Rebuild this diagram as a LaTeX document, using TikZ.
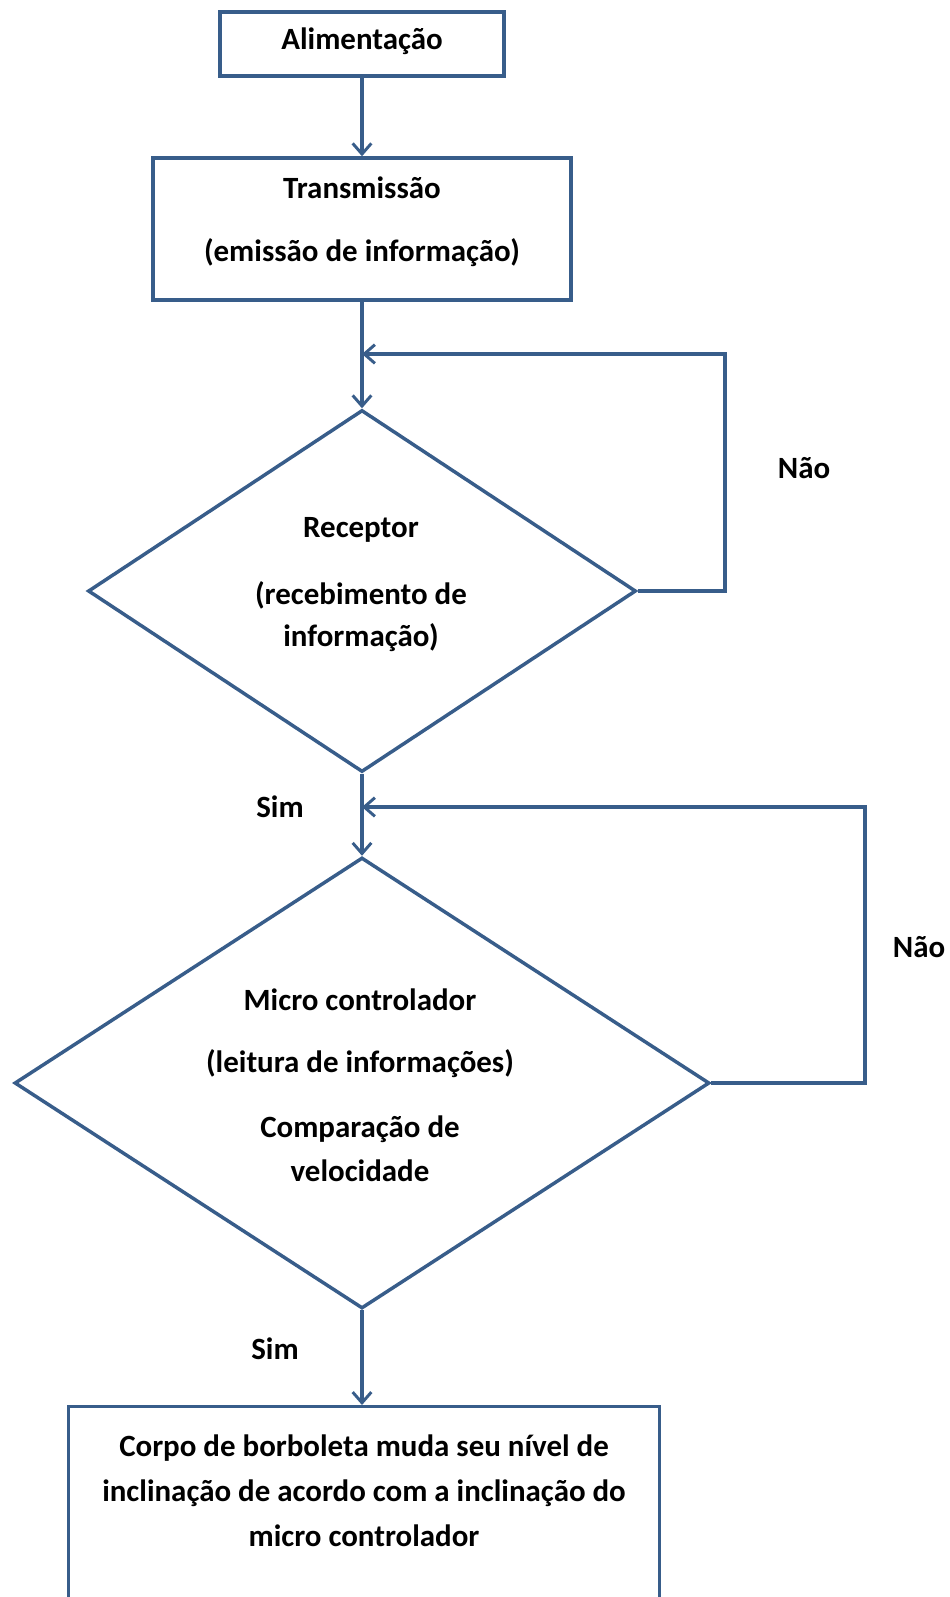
\documentclass[tikz,border=0pt]{standalone}
\usepackage{fontspec}
\setmainfont{Carlito}
\usepackage{tikz}
\usetikzlibrary{shapes.geometric}
\usetikzlibrary{arrows.meta}
\definecolor{flowblue}{RGB}{56,93,138}
\tikzset{
  flowline/.style={draw=flowblue,line width=2.6pt},
  flowarrow/.style={flowline,-{Straight Barb[length=8pt,width=14pt,line width=2.2pt]}},
  flowbox/.style={flowline,rectangle,inner sep=0pt},
  flowtest/.style={flowline,diamond,inner sep=0pt},
  flowtext/.style={font=\bfseries\fontsize{23.2}{28}\selectfont,inner sep=0pt,align=center}
}
\begin{document}
\begin{tikzpicture}[x=0.75pt,y=-0.75pt]
    \clip (0,0) rectangle (950,1597);
    \fill[white] (0,0) rectangle (950,1597);
    \node[flowbox,minimum width=284*0.75pt,minimum height=64*0.75pt] (alim) at (362,44) {};
    \node[flowtext] (alimtxt) at (362,41) {Alimentação};
    \node[flowbox,minimum width=418*0.75pt,minimum height=142*0.75pt] (trans) at (362,229) {};
    \node[flowtext] (transtxt) at (362,188) {Transmissão};
    \node[flowtext] (emisstxt) at (362,253) {(emissão de informação)};
    \node[flowtest,minimum width=548*0.75pt,minimum height=362*0.75pt] (recep) at (362,591) {};
    \node[flowtext] (receptxt) at (361,530) {Receptor};
    \node[flowtext] (recebtxt) at (361,595) {(recebimento de};
    \node[flowtext] (infotxt) at (361,638) {informação)};
    \node[flowtest,minimum width=695*0.75pt,minimum height=451*0.75pt] (micro) at (362,1083) {};
    \node[flowtext] (microtxt) at (360,1000) {Micro controlador};
    \node[flowtext] (leittxt) at (360,1064) {(leitura de informações)};
    \node[flowtext] (comptxt) at (360,1129) {Comparação de};
    \node[flowtext] (veloctxt) at (360,1171) {velocidade};
    \node[flowbox,minimum width=591*0.75pt,minimum height=260*0.75pt,anchor=north] (corpo) at (364,1405) {};
    \node[flowtext] (corpotxt1) at (364,1448) {Corpo de borboleta muda seu nível de};
    \node[flowtext] (corpotxt2) at (364,1493) {inclinação de acordo com a inclinação do};
    \node[flowtext] (corpotxt3) at (364,1536) {micro controlador};
    \coordinate (loopa) at (725,354);
    \coordinate (joina) at (362,354);
    \coordinate (loopb) at (865,807);
    \coordinate (joinb) at (362,807);
    \node[flowtext] (naoa) at (804,468) {Não};
    \node[flowtext] (naob) at (919,947) {Não};
    \node[flowtext] (sima) at (280,807) {Sim};
    \node[flowtext] (simb) at (275,1349) {Sim};
    \draw[flowarrow] (alim.south) -- (trans.north);
    \draw[flowarrow] (trans.south) -- (recep.north);
    \draw[flowarrow] (recep.east) -| (loopa) -- (joina);
    \draw[flowarrow] (recep.south) -- (micro.north);
    \draw[flowarrow] (micro.east) -| (loopb) -- (joinb);
    \draw[flowarrow] (micro.south) -- (corpo.north -| micro.south);
\end{tikzpicture}
\end{document}
